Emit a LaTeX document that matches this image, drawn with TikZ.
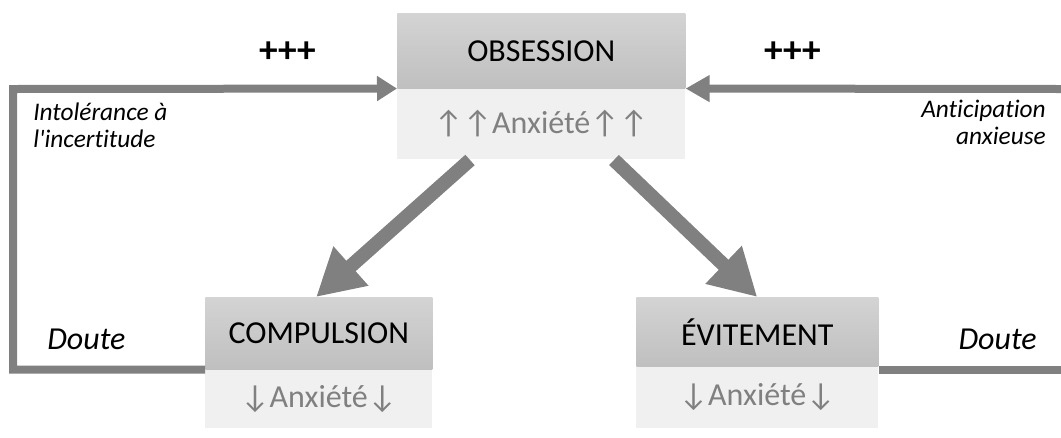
\documentclass[tikz,border=0pt]{standalone}
\usepackage{fontspec}
\setmainfont{Carlito}[Ligatures={CommonOff,TeXOff}]
\usetikzlibrary{arrows.meta}
\begin{document}
\begin{tikzpicture}[x=0.75pt,y=-0.75pt,
  hdr/.style={anchor=north west,inner sep=0pt,top color=black!17,bottom color=black!25,
    font=\fontsize{24}{28}\selectfont,text=black},
  bdy/.style={anchor=north west,inner sep=0pt,fill=black!6,text=black!50,
    font=\fontsize{24}{28}\selectfont},
  loop/.style={draw=black!50,line width=6pt},
  big/.style={draw=black!50,line width=10.5pt,-{Triangle[length=35pt,width=37pt]}},
  lbl/.style={inner sep=0pt,font=\fontsize{19}{20}\selectfont\itshape},
  doute/.style={inner sep=0pt,font=\fontsize{24}{28}\selectfont\itshape},
  plus/.style={inner sep=0pt,font=\fontsize{28}{30}\selectfont\bfseries}]
\useasboundingbox (0,0) rectangle (1061,437);
% boxes
\node[hdr,minimum width=216pt,minimum height=56.25pt] (obs) at (397,13) {OBSESSION};
\node[bdy,minimum width=216pt,minimum height=52.5pt] (obsb) at (obs.south west) {↑↑Anxiété↑↑};
\node[hdr,minimum width=170.25pt,minimum height=54pt] (comp) at (205,297) {COMPULSION};
\node[bdy,minimum width=170.25pt,minimum height=43.5pt] (compb) at (comp.south west) {↓Anxiété↓};
\node[hdr,minimum width=181.5pt,minimum height=51.75pt] (evit) at (636,297) {ÉVITEMENT};
\node[bdy,minimum width=181.5pt,minimum height=45.75pt] (evitb) at (evit.south west) {↓Anxiété↓};
% loops
\coordinate (L) at (13,89);
\coordinate (R1) at (1061,89);
\coordinate (R2) at (1061,370);
\draw[loop,-{Triangle[length=15pt,width=18pt]}] (comp.south west) -| (L) -- (obs.south west);
\draw[loop,-{Triangle[length=18pt,width=19pt]}] (R1) -- (obs.south east);
\draw[loop] (evit.east |- R2) -- (R2);
% big arrows
\coordinate (s1) at (470,160);
\coordinate (s2) at (614,160);
\draw[big] (s1) -- ([xshift=-2pt]comp.north);
\draw[big] (s2) -- (evit.north);
% labels
\node[plus] (p1) at (288,52) {+++};
\node[plus] (p2) at (793,52) {+++};
\node[lbl,anchor=base west,align=left] (t1) at (33,147) {Intolérance à\\l'incertitude};
\node[lbl,anchor=base east,align=right] (t2) at (1046,144) {Anticipation\\anxieuse};
\node[doute,anchor=base west] (d1) at (47,349) {Doute};
\node[doute,anchor=base east] (d2) at (1037,349) {Doute};
\end{tikzpicture}
\end{document}
